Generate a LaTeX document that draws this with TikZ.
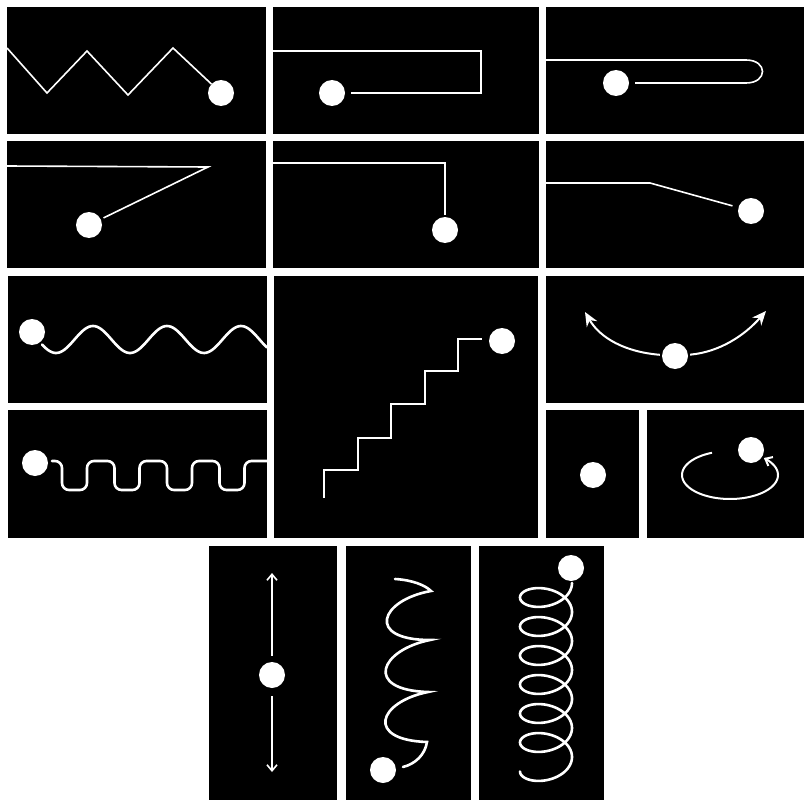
\documentclass[tikz,border=0pt]{standalone}
\usetikzlibrary{arrows.meta}

\begin{document}
\begin{tikzpicture}[
    x=1pt, y=-1pt,
    panel/.style={fill=black},
    ball/.style={circle, fill=white, inner sep=0pt, minimum size=26pt},
    wire/.style={white, line width=1.6pt},
    wave/.style={white, line width=2.6pt, line cap=round},
    barb/.style={-{Straight Barb[length=6pt, width=10pt]}},
    fork/.style={-{Stealth[length=14pt, width=12pt]}}
]
\useasboundingbox (0,0) rectangle (804,800);
\fill[white] (0,0) rectangle (804,800);
% black panels
\fill[panel] (7,7)     rectangle (266,134);
\fill[panel] (273,7)   rectangle (539,134);
\fill[panel] (546,7)   rectangle (804,134);
\fill[panel] (7,141)   rectangle (266,268);
\fill[panel] (273,141) rectangle (539,268);
\fill[panel] (546,141) rectangle (804,268);
\fill[panel] (8,276)   rectangle (267,403);
\fill[panel] (274,276) rectangle (538,538);
\fill[panel] (546,276) rectangle (804,403);
\fill[panel] (8,410)   rectangle (267,538);
\fill[panel] (546,410) rectangle (639,538);
\fill[panel] (647,410) rectangle (804,538);
\fill[panel] (209,546) rectangle (337,800);
\fill[panel] (346,546) rectangle (471,800);
\fill[panel] (479,546) rectangle (604,800);

% balls
\node[ball] (zig)    at (221,93)  {};
\node[ball] (hook)   at (332,93)  {};
\node[ball] (bend)   at (616,83)  {};
\node[ball] (slant)  at (89,225)  {};
\node[ball] (drop)   at (445,230) {};
\node[ball] (tilt)   at (751,211) {};
\node[ball] (sine)   at (32,332)  {};
\node[ball] (square) at (35,463)  {};
\node[ball] (stair)  at (502,341) {};
\node[ball] (swing)  at (675,356) {};
\node[ball] (rest)   at (593,475) {};
\node[ball] (spin)   at (751,450) {};
\node[ball] (bob)    at (272,675) {};
\node[ball] (cone)   at (383,770) {};
\node[ball] (coil)   at (571,568) {};

% first two rows
\draw[wire] (7,48) -- (47,93) -- (87,51) -- (128,95) -- (173,48)
  -- (zig);
\draw[wire, shorten >=6pt] (273,51) -| (481,93) -- (hook);
\draw[wire, shorten >=6pt] (546,60) -- (746,60)
  .. controls (768,60) and (768,83) .. (746,83) -- (bend);
\draw[wire, shorten >=3pt] (7,166) -- (208,167) -- (slant);
\draw[wire, shorten >=2pt] (273,163) -| (drop);
\draw[wire, shorten >=6pt] (546,183) -- (650,183) -- (tilt);

% waves and stairs
\draw[wave] plot[domain=42:267, samples=120, smooth]
  (\x, {339.5+13.5*cos((\x-56)/74*360)});
\draw[wave, rounded corners=7pt] (52,461)
  foreach \i in {0,...,3} {
    -- ({62+52.5*\i},461) -- ({62+52.5*\i},490)
    -- ({87+52.5*\i},490) -- ({87+52.5*\i},461) }
  -- (267,461);
\draw[wire, line width=2pt] (324,498) |- (358,470) |- (391,438)
  |- (425,404) |- (458,371) |- (482,339);

% swinging and turning
\draw[wire, line width=2pt, fork, shorten <=2pt]
  (swing) .. controls (625,352) and (600,338) .. (585,312);
\draw[wire, line width=2pt, fork, shorten <=2pt]
  (swing) .. controls (720,352) and (745,335) .. (766,311);
\draw[wire, line width=2pt, barb] plot[domain=248:-45, samples=80, smooth]
  ({730+48*cos(\x)}, {475+24*sin(\x)});

% bottom row
\draw[wire, barb, shorten <=6pt] (bob) -- (272,573);
\draw[wire, barb, shorten <=8pt] (bob) -- (272,772);
\draw[wave] (395,579) .. controls (412,580) and (425,585) .. (431,591)
  .. controls (380,600) and (365,640) .. (430,640)
  .. controls (380,650) and (363,690) .. (428,692)
  .. controls (378,702) and (365,740) .. (427,742)
  .. controls (425,755) and (415,764) .. (403,767);
\draw[wave] plot[domain=0:2340, samples=400, smooth]
  ({546+26*cos(\x)}, {583+\x/360*29+16*sin(\x)});
\end{tikzpicture}
\end{document}
